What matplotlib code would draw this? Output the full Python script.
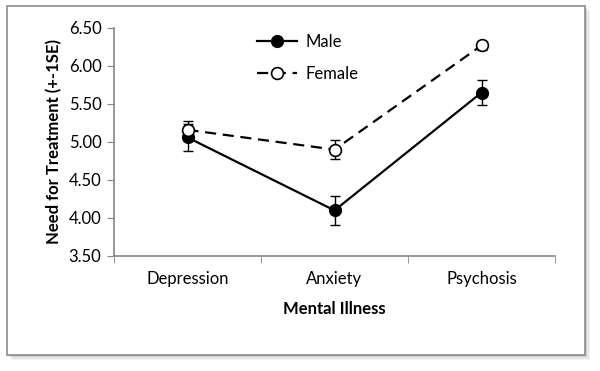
import matplotlib.pyplot as plt
from matplotlib.patches import Rectangle
import numpy as np

plt.rcParams['font.family'] = ['Lato', 'DejaVu Sans']

categories = ['Depression', 'Anxiety', 'Psychosis']
male = [5.06, 4.10, 5.65]
male_se = [0.18, 0.19, 0.16]
female = [5.16, 4.90, 6.27]
female_se = [0.11, 0.12, 0.06]

fig = plt.figure(figsize=(6, 3.71), dpi=100)

# frame with drop shadow (behind the axes)
for i, a in enumerate([0.12, 0.09, 0.06, 0.04]):
    off = (i + 1) * 1.2
    fig.patches.append(Rectangle((7 / 600 + off / 600, 16 / 371 - off / 371), 578 / 600, 349 / 371,
                                 transform=fig.transFigure, facecolor='black', alpha=a,
                                 edgecolor='none', zorder=-3))
fig.patches.append(Rectangle((7 / 600, 16 / 371), 578 / 600, 349 / 371,
                             transform=fig.transFigure, facecolor='white',
                             edgecolor='#8c8c8c', linewidth=1.2, zorder=-2))

ax = fig.add_axes([114 / 600, 115 / 371, 441 / 600, 228 / 371])
ax.patch.set_alpha(0)
x = np.arange(len(categories))

# error bars
ax.errorbar(x, male, yerr=male_se, fmt='none', ecolor='black', elinewidth=1, capsize=3.5, zorder=2)
ax.errorbar(x, female, yerr=female_se, fmt='none', ecolor='black', elinewidth=1, capsize=3.5, zorder=2)
# lines
ax.plot(x, male, color='black', lw=1.6, marker='o', ms=8.5, mfc='black', mec='black',
        label='Male', zorder=3)
ax.plot(x, female, color='black', lw=1.6, ls=(0, (5, 3)), marker='o', ms=8.5,
        mfc='white', mec='black', mew=1.2, label='Female', zorder=3)

ax.set_xlim(-0.5, 2.5)
ax.set_ylim(3.5, 6.5)
ax.set_yticks(np.arange(3.5, 6.51, 0.5))
ax.set_yticklabels(['%.2f' % v for v in np.arange(3.5, 6.51, 0.5)], fontsize=12)
ax.set_xticks(x)
ax.set_xticklabels(categories, fontsize=12)
ax.set_xticks([-0.5, 0.5, 1.5, 2.5], minor=True)
ax.tick_params(axis='x', which='major', length=0, pad=11)
ax.tick_params(axis='x', which='minor', length=5, color='#868686', direction='out')
ax.tick_params(axis='y', length=5, color='#868686', pad=4)

for s in ['top', 'right']:
    ax.spines[s].set_visible(False)
for s in ['left', 'bottom']:
    ax.spines[s].set_color('#868686')
    ax.spines[s].set_linewidth(1.2)

ax.set_xlabel('Mental Illness', fontsize=12, fontweight='bold', labelpad=10)
ax.set_ylabel('Need for Treatment (+-1SE)', fontsize=12, fontweight='bold', labelpad=5)

leg = ax.legend(loc='upper left', bbox_to_anchor=(0.29, 1.04), frameon=False,
                fontsize=12, handlelength=2.4, labelspacing=0.95, handletextpad=0.5)

fig.savefig('out.png', dpi=100)
